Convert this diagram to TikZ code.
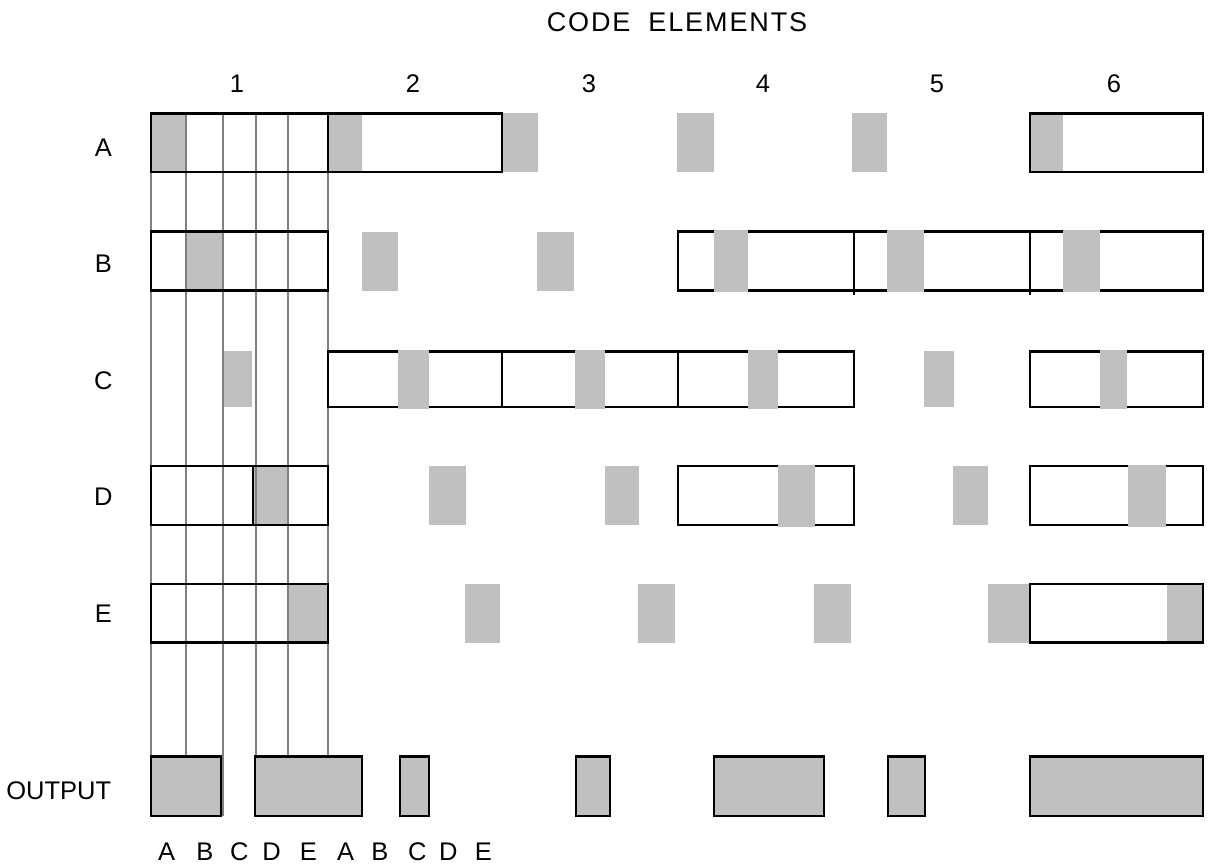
\documentclass[tikz,border=0pt]{standalone}
\usepackage{fontspec}
\setmainfont{Liberation Sans}
\newfontfamily\headfont[LetterSpace=7]{Liberation Sans}
\definecolor{cellgray}{HTML}{C0C0C0}
\definecolor{linegray}{HTML}{808080}
\begin{document}
\begin{tikzpicture}[x=1pt,y=-1pt,
  lbl/.style={inner sep=0pt, font=\fontsize{25.5}{30}\selectfont},
  cellfill/.style={fill=cellgray, draw=none},
  boxline/.style={draw=black, line width=2.8pt, line join=miter},
  guide/.style={draw=linegray, line width=2.2pt},
  outbox/.style={fill=cellgray, draw=black, line width=2.8pt}]
\useasboundingbox (0,0) rectangle (1208,867);

% ---- texts
\node[lbl, font=\headfont\fontsize{27}{32}\selectfont] (title) at (677,22) {CODE\hspace{18pt}ELEMENTS};
\foreach \n/\x in {1/237,2/413,3/589,4/763,5/937,6/1114}
  \node[lbl] (col\n) at (\x,84) {\n};
\foreach \r/\y in {A/148,B/264,C/381,D/497,E/614}
  \node[lbl] (row\r) at (103.3,\y) {\r};
\node[lbl] (outlbl) at (58.7,791) {OUTPUT};
\foreach \l/\x [count=\i] in {A/166.7,B/205,C/239.3,D/271.7,E/308.3,A/345.7,B/380,C/417.3,D/448.3,E/483.3}
  \node[lbl] (bot\i) at (\x,852) {\l};

% ---- gray cells drawn under the outlines
% row A
\foreach \a/\b in {151/186,328/362,502/538,677/714,852/887,1030/1063}
  \path[cellfill] (\a,113.3) rectangle (\b,172);
% row B (col 1-3)
\foreach \a/\b in {186/223,362/398,537/574}
  \path[cellfill] (\a,231.7) rectangle (\b,290.7);
% row C (col 1, 5)
\foreach \a/\b in {222.5/252,924/954}
  \path[cellfill] (\a,350.5) rectangle (\b,406.7);
% row D (col 1,2,3,5)
\foreach \a/\b in {253/288,429/466,605/639,953/988}
  \path[cellfill] (\a,466) rectangle (\b,525);
% row E
\foreach \a/\b in {288/328,465/500,638/675,814/851,988/1029,1167/1203}
  \path[cellfill] (\a,584) rectangle (\b,642.5);

% ---- guide lines of element 1
\foreach \x in {151,186,223,256,288,328}
  \draw[guide] (\x,113.3) -- (\x,816);

% ---- outlined groups
% row A
\draw[boxline] (151,113.3) rectangle (328,172);
\draw[boxline] (328,113.3) rectangle (502,172);
\draw[boxline] (1030,113.3) rectangle (1203,172);
% row B
\draw[boxline] (151,231.7) rectangle (328,290.7);
\draw[boxline] (678,231.7) rectangle (854,290.7);
\draw[boxline] (854,231.7) rectangle (1030,290.7);
\draw[boxline] (1030,231.7) rectangle (1203,290.7);
\draw[boxline] (854,231.7) -- (854,295);
\draw[boxline] (1030,231.7) -- (1030,295);
% row C
\draw[boxline] (328,351.5) rectangle (502,407);
\draw[boxline] (502,351.5) rectangle (678,407);
\draw[boxline] (678,351.5) rectangle (854,407);
\draw[boxline] (1030,351.5) rectangle (1203,407);
% row D
\draw[boxline] (151,466) rectangle (328,525);
\draw[boxline] (253,466) -- (253,525);
\draw[boxline] (678,466) rectangle (854,525);
\draw[boxline] (1030,466) rectangle (1203,525);
% row E
\draw[boxline] (151,584) rectangle (328,642.5);
\draw[boxline] (1030,584) rectangle (1203,642.5);

% ---- gray cells lying inside the outlined groups
\foreach \a/\b in {714/748,887/924,1063/1100}
  \path[cellfill] (\a,230.2) rectangle (\b,292.2);
\foreach \a/\b in {398/429,575/605,748/778,1100/1127}
  \path[cellfill] (\a,350) rectangle (\b,408.5);
\foreach \a/\b in {778/815,1128/1166}
  \path[cellfill] (\a,464.5) rectangle (\b,526.5);

% ---- output
\foreach \a/\b [count=\i] in {151/221,255/362,400/429,576/610,714/824,888/925,1030/1203}
  \draw[outbox] (\a,756.5) rectangle (\b,816);
\end{tikzpicture}
\end{document}
